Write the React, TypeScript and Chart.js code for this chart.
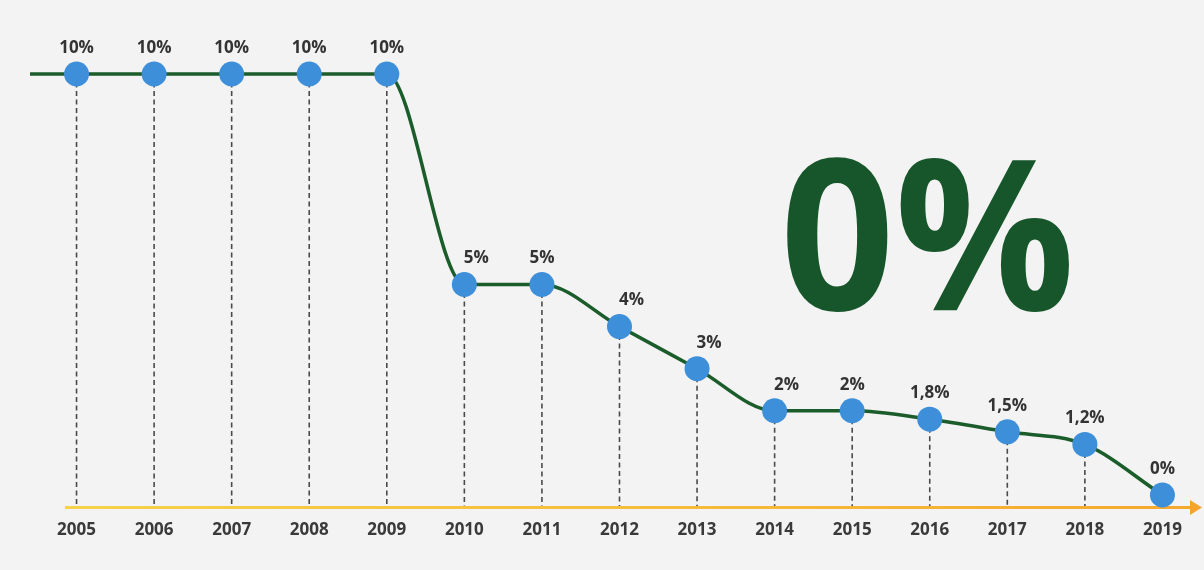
import React, { useEffect, useRef } from "react";
import { Chart, registerables } from "chart.js";

Chart.register(...registerables);

const years = [2005, 2006, 2007, 2008, 2009, 2010, 2011, 2012, 2013, 2014, 2015, 2016, 2017, 2018, 2019];
const rates = [10, 10, 10, 10, 10, 5, 5, 4, 3, 2, 2, 1.8, 1.5, 1.2, 0];
const headline = "0%";

const FONT = "'Open Sans', 'DejaVu Sans', sans-serif";
const LINE_GREEN = "#1b5c2b";
const POINT_BLUE = "#3d8fd9";

const fmt = (v: number) => String(v).replace(".", ",") + "%";

const decorPlugin = {
  id: "decor",
  beforeDatasetsDraw(chart: any) {
    const { ctx, chartArea, scales } = chart;
    const meta = chart.getDatasetMeta(0);
    const pts = meta.data;
    const bottom = chartArea.bottom;
    ctx.save();
    // dashed drop lines
    ctx.strokeStyle = "#4a4a4a";
    ctx.lineWidth = 1.6;
    ctx.setLineDash([5, 3.5]);
    pts.forEach((p: any) => {
      ctx.beginPath();
      ctx.moveTo(p.x, p.y);
      ctx.lineTo(p.x, bottom);
      ctx.stroke();
    });
    ctx.setLineDash([]);
    // axis line with arrow
    const x0 = scales.x.getPixelForValue(years[0] - 0.15);
    const x1 = chartArea.right;
    const grad = ctx.createLinearGradient(x0, 0, x1, 0);
    grad.addColorStop(0, "#f6d24a");
    grad.addColorStop(1, "#f5a830");
    ctx.strokeStyle = grad;
    ctx.lineWidth = 3;
    ctx.beginPath();
    ctx.moveTo(x0, bottom);
    ctx.lineTo(x1 - 8, bottom);
    ctx.stroke();
    ctx.fillStyle = "#f5a52c";
    ctx.beginPath();
    ctx.moveTo(x1, bottom);
    ctx.lineTo(x1 - 12, bottom - 7.5);
    ctx.lineTo(x1 - 12, bottom + 7.5);
    ctx.closePath();
    ctx.fill();
    // line extension to the left edge
    if (pts.length) {
      ctx.strokeStyle = LINE_GREEN;
      ctx.lineWidth = 3.5;
      ctx.beginPath();
      ctx.moveTo(chartArea.left, pts[0].y);
      ctx.lineTo(pts[0].x, pts[0].y);
      ctx.stroke();
    }
    ctx.restore();
  },
  afterDatasetsDraw(chart: any) {
    const { ctx } = chart;
    const pts = chart.getDatasetMeta(0).data;
    ctx.save();
    ctx.font = `bold 17px ${FONT}`;
    ctx.fillStyle = "#333333";
    ctx.textAlign = "center";
    ctx.textBaseline = "middle";
    pts.forEach((p: any, i: number) => {
      const prev = i > 0 ? rates[i - 1] : rates[i];
      const shift = prev - rates[i] >= 1 && rates[i] > 0 ? 12 : 0;
      ctx.fillText(fmt(rates[i]), p.x + shift, p.y - 26);
    });
    ctx.restore();
  },
};

export default function App() {
  const ref = useRef<HTMLCanvasElement | null>(null);

  useEffect(() => {
    if (!ref.current) return;
    const chart = new Chart(ref.current, {
      type: "line",
      data: {
        datasets: [
          {
            data: years.map((y, i) => ({ x: y, y: rates[i] })),
            borderColor: LINE_GREEN,
            borderWidth: 3.5,
            cubicInterpolationMode: "monotone",
            pointRadius: 12.5,
            pointHoverRadius: 12.5,
            pointBackgroundColor: POINT_BLUE,
            pointBorderColor: POINT_BLUE,
            pointBorderWidth: 0,
            clip: false as any,
          },
        ],
      },
      options: {
        responsive: false,
        animation: false,
        events: [],
        layout: { autoPadding: false, padding: { left: 30, right: 2, top: 74, bottom: 30 } },
        plugins: { legend: { display: false }, tooltip: { enabled: false } },
        scales: {
          x: {
            type: "linear",
            min: 2004.4,
            max: 2019.51,
            grid: { display: false, drawTicks: true, tickLength: 12 },
            border: { display: false },
            afterBuildTicks: (axis: any) => {
              axis.ticks = years.map((v) => ({ value: v }));
            },
            ticks: {
              padding: 0,
              color: "#3a3a3a",
              font: { family: FONT, size: 17, weight: "bold" },
              callback: (v: any) => String(v),
              maxRotation: 0,
              autoSkip: false,
            },
          },
          y: {
            display: false,
            min: -0.3,
            max: 10,
          },
        },
      },
      plugins: [decorPlugin],
    });
    return () => chart.destroy();
  }, []);

  return (
    <div
      style={{
        position: "fixed",
        left: 0,
        top: 0,
        width: 1204,
        height: 570,
        background: "#f3f3f3",
        overflow: "hidden",
      }}
    >
      <canvas ref={ref} width={1204} height={570} style={{ position: "absolute", left: 0, top: 0 }} />
      <div
        style={{
          position: "absolute",
          left: 780,
          top: 123,
          fontFamily: FONT,
          fontWeight: 700,
          fontSize: 211,
          lineHeight: 1,
          color: "#16562a",
          transform: "scaleX(0.95)",
          transformOrigin: "left top",
          whiteSpace: "nowrap",
        }}
      >
        {headline}
      </div>
    </div>
  );
}
